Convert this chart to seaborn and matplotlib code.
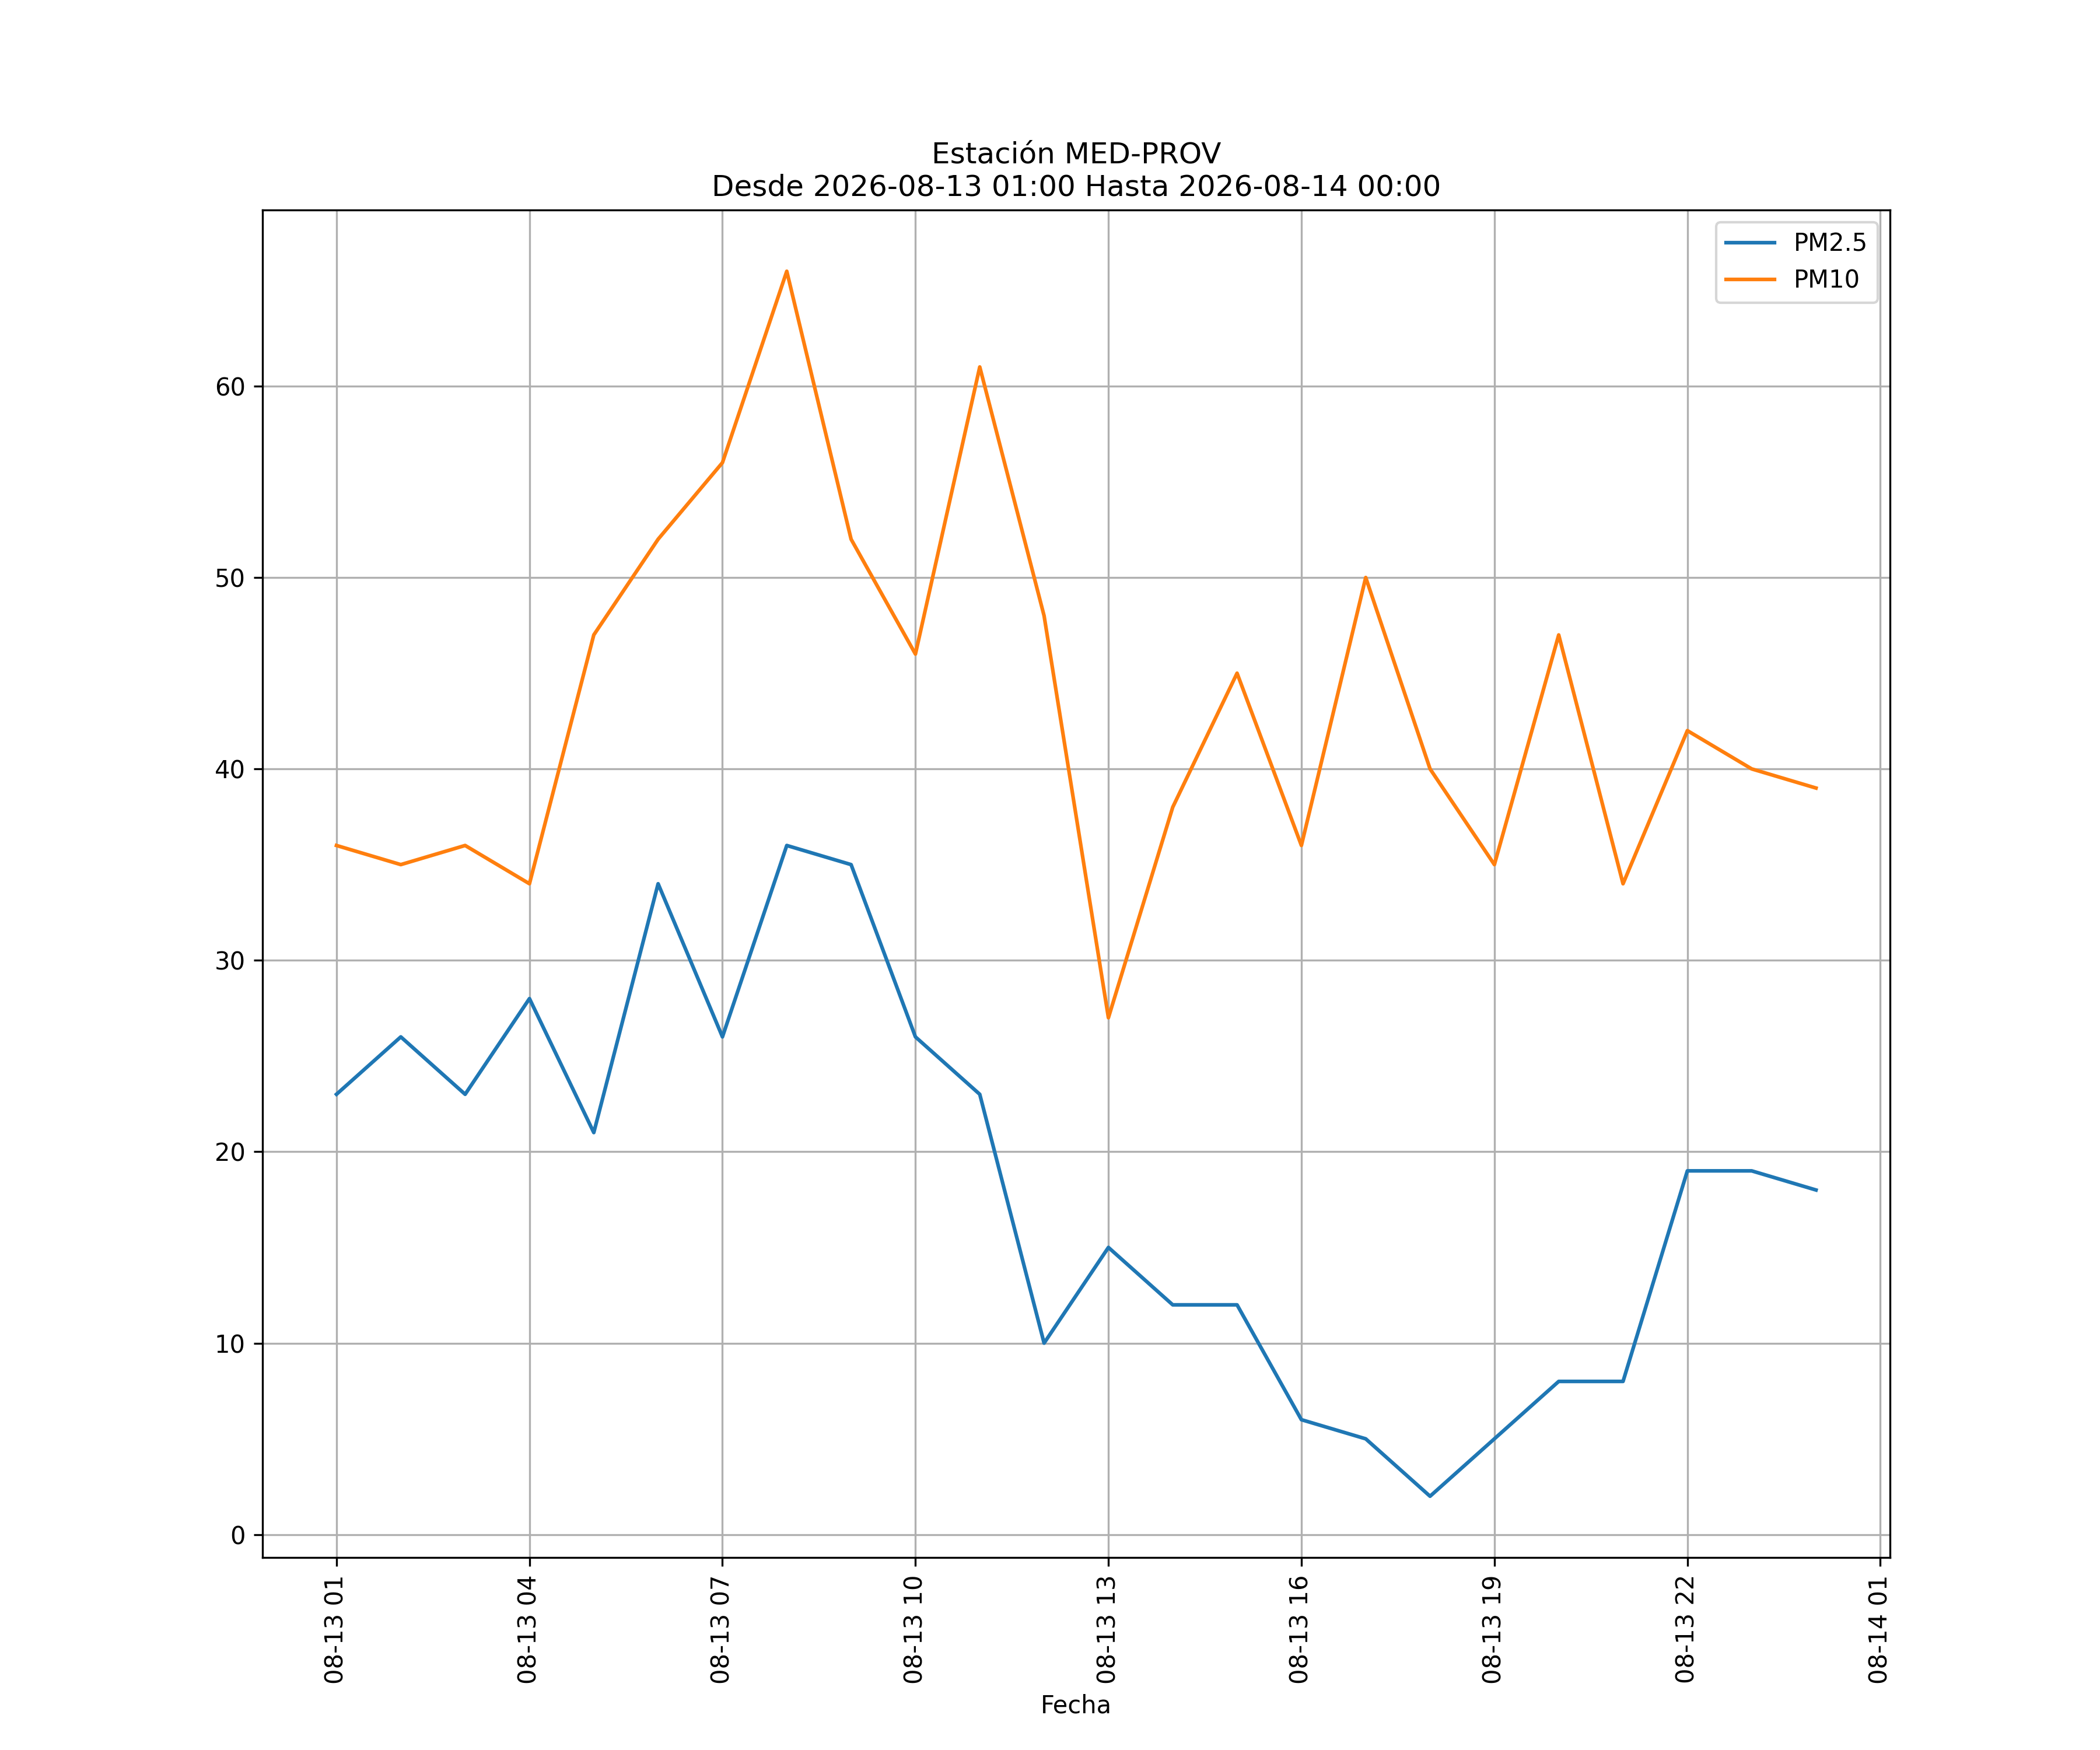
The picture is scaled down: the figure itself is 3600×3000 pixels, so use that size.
import matplotlib
matplotlib.use("Agg")
import matplotlib.pyplot as plt
import matplotlib.dates as mdates
import pandas as pd
import seaborn as sns

times = pd.date_range("2026-08-13 01:00", "2026-08-14 00:00", freq="h")
pm25 = [23, 26, 23, 28, 21, 34, 26, 36, 35, 26, 23, 10, 15, 12, 12, 6, 5, 2, 5, 8, 8, 19, 19, 18]
pm10 = [36, 35, 36, 34, 47, 52, 56, 66, 52, 46, 61, 48, 27, 38, 45, 36, 50, 40, 35, 47, 34, 42, 40, 39]
series_names = ["PM2.5", "PM10"]

df = pd.DataFrame({"Fecha": list(times) * 2,
                   "valor": pm25 + pm10,
                   "serie": [series_names[0]] * len(pm25) + [series_names[1]] * len(pm10)})

fig, ax = plt.subplots(figsize=(12, 10), dpi=300)
sns.lineplot(data=df, x="Fecha", y="valor", hue="serie", ax=ax,
             palette=["#1f77b4", "#ff7f0e"])
ax.set_title("Estación MED-PROV\nDesde 2026-08-13 01:00 Hasta 2026-08-14 00:00")
ax.set_xlabel("Fecha")
ax.set_ylabel("")
ax.xaxis.set_major_locator(mdates.HourLocator(byhour=[1, 4, 7, 10, 13, 16, 19, 22]))
ax.xaxis.set_major_formatter(mdates.DateFormatter("%m-%d %H"))
plt.setp(ax.get_xticklabels(), rotation=90)
ax.grid(True)
ax.legend(title=None, loc="upper right")
fig.savefig("out.png", dpi=300)
